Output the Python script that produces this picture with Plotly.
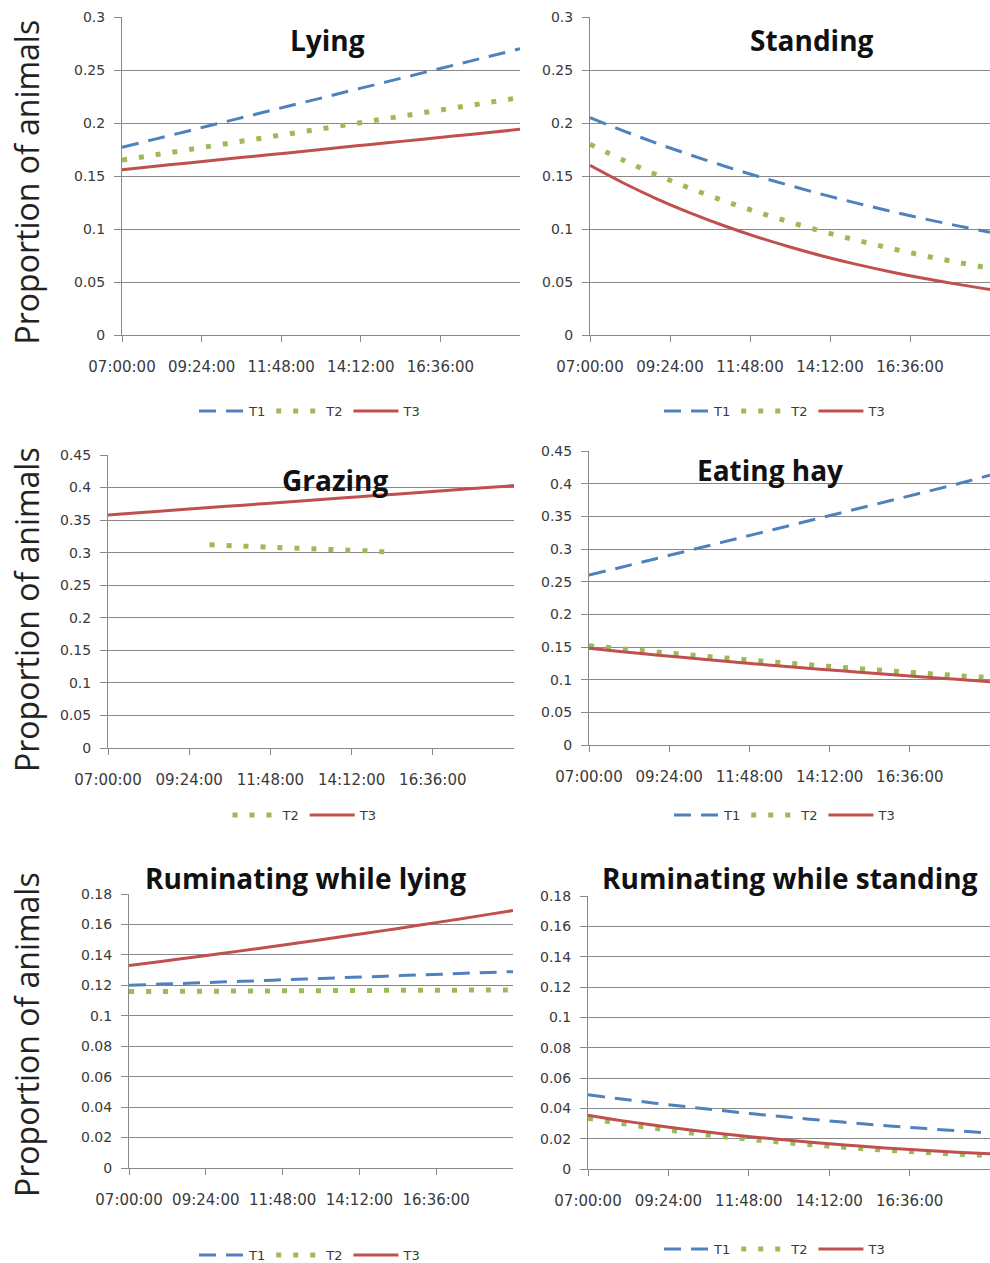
import plotly.graph_objects as go

# ---------------- data ----------------
hours = [7, 8, 9, 10, 11, 12, 13, 14, 15, 16, 17, 18, 19]
tick_vals = [7, 9.4, 11.8, 14.2, 16.6]
tick_text = ["07:00:00", "09:24:00", "11:48:00", "14:12:00", "16:36:00"]

lying_t1 = [0.177, 0.1848, 0.1925, 0.2003, 0.208, 0.2158, 0.2235, 0.2313, 0.239, 0.2468, 0.2545, 0.2623, 0.270]
lying_t2 = [0.165, 0.1699, 0.1748, 0.1798, 0.1847, 0.1896, 0.1945, 0.1994, 0.2043, 0.2093, 0.2142, 0.2191, 0.224]
lying_t3 = [0.156, 0.1592, 0.1623, 0.1655, 0.1687, 0.1718, 0.175, 0.1782, 0.1813, 0.1845, 0.1877, 0.1908, 0.194]

standing_t1 = [0.205, 0.1926, 0.1809, 0.1700, 0.1597, 0.1500, 0.1410, 0.1324, 0.1244, 0.1169, 0.1098, 0.1032, 0.0969]
standing_t2 = [0.180, 0.1649, 0.1511, 0.1384, 0.1268, 0.1162, 0.1065, 0.0975, 0.0894, 0.0819, 0.0750, 0.0687, 0.0630]
standing_t3 = [0.160, 0.1434, 0.1285, 0.1152, 0.1033, 0.0926, 0.0830, 0.0743, 0.0666, 0.0597, 0.0535, 0.0480, 0.0430]

grazing_t2_hours = [10, 11, 12, 13, 14, 15, 15.5]
grazing_t2 = [0.312, 0.310, 0.308, 0.306, 0.304, 0.302, 0.300]
grazing_t3 = [0.358, 0.3618, 0.3655, 0.3693, 0.373, 0.3768, 0.3805, 0.3843, 0.388, 0.3918, 0.3955, 0.3993, 0.403]

hay_t1 = [0.260, 0.2725, 0.2852, 0.2978, 0.3105, 0.3232, 0.3358, 0.3485, 0.3612, 0.3738, 0.3865, 0.3992, 0.4130]
hay_t2 = [0.152, 0.1472, 0.1425, 0.1379, 0.1335, 0.1292, 0.1251, 0.1211, 0.1172, 0.1135, 0.1098, 0.1063, 0.1029]
hay_t3 = [0.148, 0.1429, 0.1379, 0.1332, 0.1286, 0.1241, 0.1198, 0.1157, 0.1117, 0.1078, 0.1041, 0.1005, 0.0970]

rumlie_t1 = [0.1200, 0.1208, 0.1215, 0.1223, 0.1230, 0.1238, 0.1245, 0.1253, 0.1260, 0.1268, 0.1275, 0.1283, 0.1290]
rumlie_t2 = [0.1160, 0.1160, 0.1161, 0.1162, 0.1163, 0.1164, 0.1165, 0.1166, 0.1167, 0.1168, 0.1168, 0.1169, 0.1170]
rumlie_t3 = [0.133, 0.1357, 0.1384, 0.1412, 0.1441, 0.1470, 0.1500, 0.1530, 0.1561, 0.1593, 0.1625, 0.1658, 0.1691]

rumstand_t1 = [0.0490, 0.0461, 0.0434, 0.0409, 0.0385, 0.0362, 0.0341, 0.0321, 0.0302, 0.0284, 0.0268, 0.0252, 0.0237]
rumstand_t2 = [0.0335, 0.0300, 0.0268, 0.0240, 0.0214, 0.0192, 0.0172, 0.0154, 0.0137, 0.0123, 0.0110, 0.0098, 0.0088]
rumstand_t3 = [0.0355, 0.0319, 0.0288, 0.0259, 0.0233, 0.0210, 0.0189, 0.0170, 0.0153, 0.0137, 0.0124, 0.0111, 0.0100]

titles = ["Lying", "Standing", "Grazing", "Eating hay", "Ruminating while lying", "Ruminating while standing"]
y_label = "Proportion of animals"

# ---------------- layout geometry (pixels) ----------------
W, H = 990, 1263
# (x_left, x_right, y_top, y_bottom, ymax, dtick)
panels = [
    (122, 520, 17, 335, 0.3, 0.05),
    (590, 990, 17, 335, 0.3, 0.05),
    (108, 514, 455, 748, 0.45, 0.05),
    (589, 990, 451, 745, 0.45, 0.05),
    (129, 513, 894, 1168, 0.18, 0.02),
    (588, 990, 896, 1169, 0.18, 0.02),
]

C1, C2, C3 = "#4F81BD", "#9BBB59", "#C0504D"
GRID = "#888888"
TXT = "#3a3a3a"

fig = go.Figure()

def fx(px):
    return px / W

def fy(py):
    return 1 - py / H

series = [
    [("T1", hours, lying_t1), ("T2", hours, lying_t2), ("T3", hours, lying_t3)],
    [("T1", hours, standing_t1), ("T2", hours, standing_t2), ("T3", hours, standing_t3)],
    [("T2", grazing_t2_hours, grazing_t2), ("T3", hours, grazing_t3)],
    [("T1", hours, hay_t1), ("T2", hours, hay_t2), ("T3", hours, hay_t3)],
    [("T1", hours, rumlie_t1), ("T2", hours, rumlie_t2), ("T3", hours, rumlie_t3)],
    [("T1", hours, rumstand_t1), ("T2", hours, rumstand_t2), ("T3", hours, rumstand_t3)],
]

styles = {
    "T1": dict(color=C1, width=3, dash="17px,10px"),
    "T2": dict(color=C2, width=5, dash="5px,12px"),
    "T3": dict(color=C3, width=3, dash="solid"),
}

legend_pos = [
    (310, 411), (775, 411), (305, 815), (785, 815), (310, 1255), (775, 1249),
]

layout_updates = {}
for i, (p, ser) in enumerate(zip(panels, series)):
    n = i + 1
    xa = "x" if n == 1 else f"x{n}"
    ya = "y" if n == 1 else f"y{n}"
    lg = "legend" if n == 1 else f"legend{n}"
    for name, xs, ys in ser:
        fig.add_trace(go.Scatter(
            x=xs, y=ys, mode="lines", name=name, line=styles[name],
            xaxis=xa, yaxis=ya, legend=lg, line_shape="spline",
        ))
    xl, xr, yt, yb, ymax, dt = p
    axis_x_key = "xaxis" if n == 1 else f"xaxis{n}"
    axis_y_key = "yaxis" if n == 1 else f"yaxis{n}"
    layout_updates[axis_x_key] = dict(
        domain=[fx(xl), fx(xr)], anchor=ya, range=[7, 19],
        tickvals=tick_vals, ticktext=tick_text, ticks="outside", ticklen=6,
        tickcolor=GRID, showline=True, linecolor=GRID, linewidth=1,
        showgrid=False, zeroline=False, fixedrange=True, automargin=False,
        ticklabelstandoff=12,
        tickfont=dict(family="DejaVu Sans", size=15, color=TXT),
    )
    layout_updates[axis_y_key] = dict(
        domain=[fy(yb), fy(yt)], anchor=xa, range=[0, ymax], dtick=dt,
        tick0=0, ticks="outside", ticklen=7, tickcolor=GRID,
        showline=True, linecolor=GRID, linewidth=1,
        showgrid=True, gridcolor=GRID, gridwidth=1, zeroline=False,
        tickformat="~g", fixedrange=True, automargin=False,
        ticklabelstandoff=6,
        tickfont=dict(family="DejaVu Sans", size=14, color=TXT),
    )
    lx, ly = legend_pos[i]
    layout_updates[lg] = dict(
        x=fx(lx), y=fy(ly), xanchor="center", yanchor="middle",
        orientation="h", bgcolor="rgba(0,0,0,0)",
        font=dict(family="DejaVu Sans", size=13, color=TXT),
        itemwidth=45, tracegroupgap=0,
    )

fig.update_layout(**layout_updates)

# titles
title_pos = [(327, 40), (812, 40), (335, 480), (770, 470), (305, 878), (790, 878)]
for t, (tx, ty) in zip(titles, title_pos):
    fig.add_annotation(
        text=f"<b>{t}</b>", x=fx(tx), y=fy(ty), xref="paper", yref="paper",
        showarrow=False, xanchor="center", yanchor="middle",
        font=dict(family="Open Sans", size=28, color="#111111"),
    )

# y-axis labels for the left column
for cy in [(20 + 345) / 2, (455 + 765) / 2, (885 + 1185) / 2]:
    fig.add_annotation(
        text=y_label, x=fx(26), y=fy(cy), xref="paper", yref="paper",
        showarrow=False, textangle=-90, xanchor="center", yanchor="middle",
        font=dict(family="Open Sans", size=32, color="#222222"),
    )

fig.update_layout(
    width=W, height=H, margin=dict(l=0, r=0, t=0, b=0, autoexpand=False),
    paper_bgcolor="white", plot_bgcolor="white", showlegend=True,
)

fig.write_html(
    "out.html",
    config={"displayModeBar": False},
    post_script="document.body.style.margin='0';document.body.style.padding='0';",
)
